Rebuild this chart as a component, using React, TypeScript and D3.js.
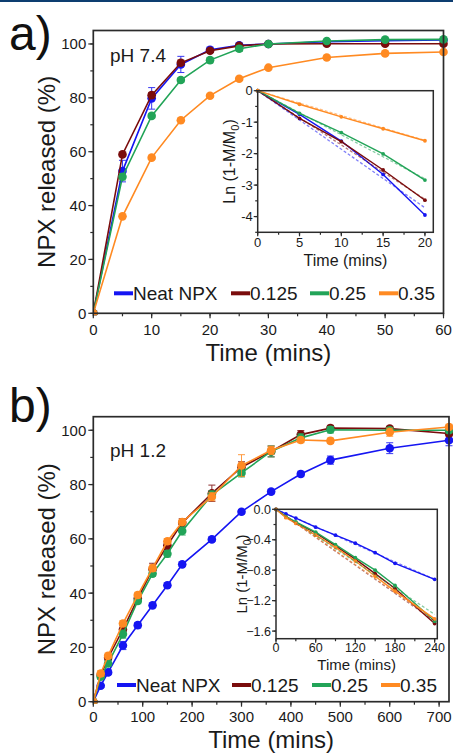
import React from 'react';
import * as d3 from 'd3';

// ---------- Data ----------
const seriesNames = ['Neat NPX', '0.125', '0.25', '0.35'];
const seriesColors = ['#1515f2', '#7a0c0c', '#22a458', '#ff8a22'];

// Panel a (pH 7.4)
const timeA = [0, 5, 10, 15, 20, 25, 30, 40, 50, 60];
const neatA = [0, 52.8, 79.8, 92.4, 97.8, 99.5, 100, 100.8, 101.2, 101.5];
const c125A = [0, 59, 81, 93, 97.5, 99.3, 100, 100.1, 100.1, 100.1];
const c25A = [0, 50.7, 73.3, 86.6, 94, 98.2, 100, 101.1, 101.6, 101.7];
const c35A = [0, 36, 57.8, 71.7, 80.8, 87.1, 91.2, 95, 96.5, 97];
const errNeatA = [0, 4, 4, 3, 1, 0.6, 0.4, 0.4, 0.4, 0.4];
const err125A = [0, 0.6, 1, 1, 0.6, 0.5, 0.4, 0.4, 0.4, 0.4];
const err25A = [0, 1.2, 0.8, 0.8, 1, 1, 0.6, 0.5, 0.5, 0.5];
const err35A = [0, 0.5, 0.5, 0.5, 0.5, 0.5, 0.5, 0.5, 0.5, 0.5];

// Inset a
const timeInA = [0, 5, 10, 15, 20];
const lnNeatA = [0, -0.75, -1.6, -2.66, -3.95];
const ln125A = [0, -0.88, -1.62, -2.52, -3.48];
const ln25A = [0, -0.72, -1.33, -2.01, -2.84];
const ln35A = [0, -0.43, -0.83, -1.21, -1.59];
const fitTimeInA = [0, 20];
const fitNeatA = [0, -3.72];
const fit125A = [0, -3.45];
const fit25A = [0, -2.8];
const fit35A = [0, -1.58];

// Panel b (pH 1.2)
const timeB = [0, 15, 30, 60, 90, 120, 150, 180, 240, 300, 360, 420, 480, 600, 720];
const neatB = [0, 5.9, 10.8, 20.7, 28.2, 35.5, 42.9, 50.6, 59.8, 70, 77.4, 83.9, 89, 93.4, 96.3];
const c125B = [0, 9.8, 16.2, 26.6, 38, 48.8, 57.6, 65.9, 76.8, 86.4, 92.2, 98.4, 100.8, 100.6, 98.8];
const c25B = [0, 9.2, 14.1, 24.9, 37.1, 47.2, 54.5, 62.9, 76.2, 84.3, 92.2, 97.2, 100.2, 100, 100];
const c35B = [0, 10.4, 16.9, 28.8, 39.3, 49.2, 59.1, 66.2, 75.5, 87, 92.6, 96.4, 96.1, 99.3, 101.2];
const errNeatB = [0, 0.6, 0.8, 1.5, 1, 0.8, 0.8, 0.8, 0.8, 0.8, 0.8, 1, 1.5, 2, 2];
const err125B = [0, 0.8, 1, 1.5, 1, 2.2, 1.5, 1.5, 3, 2, 2, 1.5, 1, 0.8, 1];
const err25B = [0, 1, 1, 1.5, 1, 1, 1.2, 1.5, 1.5, 1.5, 2, 1.5, 1.2, 1, 1];
const err35B = [0, 1, 1, 1, 1, 1.2, 1, 1, 1.5, 4, 1.5, 1, 1, 1.5, 1];

// Inset b
const timeInB = [0, 15, 30, 60, 90, 120, 150, 180, 240];
const lnNeatB = [0, -0.06, -0.115, -0.235, -0.34, -0.445, -0.57, -0.71, -0.92];
const ln125B = [0, -0.1, -0.175, -0.31, -0.48, -0.655, -0.845, -1.04, -1.5];
const ln25B = [0, -0.095, -0.165, -0.3, -0.465, -0.635, -0.8, -1.0, -1.47];
const ln35B = [0, -0.11, -0.185, -0.34, -0.5, -0.68, -0.88, -1.075, -1.44];
const fitTimeInB = [0, 240];
const fitNeatB = [0, -0.92];
const fit125B = [0, -1.47];
const fit25B = [0, -1.38];
const fit35B = [0, -1.45];

// Ticks
const xTicksA = [0, 10, 20, 30, 40, 50, 60];
const xTicksB = [0, 100, 200, 300, 400, 500, 600, 700];
const yTicksMain = [0, 20, 40, 60, 80, 100];
const xTicksInA = [0, 5, 10, 15, 20];
const yTicksInA = [0, -1, -2, -3, -4];
const xTicksInB = [0, 60, 120, 180, 240];
const yTicksInB = [0, -0.4, -0.8, -1.2, -1.6];

const FONT = 'Liberation Sans, Arial, Helvetica, sans-serif';
const AXIS = '#2b2b2b';

type Box = { left: number; right: number; top: number; bottom: number };

function Axes({ x, y, box, xMajor, xMinorStep, yMajor, yMinorStep, fmtX, fmtY, fs, tick, minor, xLabDy, yLabDx, sw }: any) {
  const xMinor: number[] = [];
  const [, x1] = x.domain();
  for (let v = 0; v <= x1 + 1e-9; v += xMinorStep) xMinor.push(v);
  const yMinor: number[] = [];
  const [y0, y1] = y.domain();
  for (let v = Math.ceil(y0 / yMinorStep) * yMinorStep; v <= y1 + 1e-9; v += yMinorStep) yMinor.push(v);
  return (
    <g>
      <rect x={box.left} y={box.top} width={box.right - box.left} height={box.bottom - box.top} fill="none" stroke={AXIS} strokeWidth={sw} />
      {xMinor.map((v, i) => (
        <line key={'xm' + i} x1={x(v)} x2={x(v)} y1={box.bottom} y2={box.bottom + minor} stroke={AXIS} strokeWidth={1.2} />
      ))}
      {xMajor.map((v: number, i: number) => (
        <g key={'x' + i}>
          <line x1={x(v)} x2={x(v)} y1={box.bottom} y2={box.bottom + tick} stroke={AXIS} strokeWidth={1.2} />
          <text x={x(v)} y={box.bottom + xLabDy} fontSize={fs} textAnchor="middle" fill="#1a1a1a" fontFamily={FONT}>{fmtX(v)}</text>
        </g>
      ))}
      {yMinor.map((v, i) => (
        <line key={'ym' + i} x1={box.left - minor} x2={box.left} y1={y(v)} y2={y(v)} stroke={AXIS} strokeWidth={1.2} />
      ))}
      {yMajor.map((v: number, i: number) => (
        <g key={'y' + i}>
          <line x1={box.left - tick} x2={box.left} y1={y(v)} y2={y(v)} stroke={AXIS} strokeWidth={1.2} />
          <text x={box.left - yLabDx} y={y(v) + fs * 0.36} fontSize={fs} textAnchor="end" fill="#1a1a1a" fontFamily={FONT}>{fmtY(v)}</text>
        </g>
      ))}
    </g>
  );
}

function Series({ x, y, t, v, err, color, r, sw, cap }: any) {
  const line = d3.line<number>().x((_, i) => x(t[i])).y((d) => y(d));
  return (
    <g>
      <path d={line(v) || ''} fill="none" stroke={color} strokeWidth={sw} />
      {err && v.map((d: number, i: number) => err[i] > 0.3 ? (
        <g key={'e' + i} stroke={color} strokeWidth={1} opacity={0.85}>
          <line x1={x(t[i])} x2={x(t[i])} y1={y(d - err[i])} y2={y(d + err[i])} />
          <line x1={x(t[i]) - cap} x2={x(t[i]) + cap} y1={y(d - err[i])} y2={y(d - err[i])} />
          <line x1={x(t[i]) - cap} x2={x(t[i]) + cap} y1={y(d + err[i])} y2={y(d + err[i])} />
        </g>
      ) : null)}
      {v.map((d: number, i: number) => (
        <circle key={i} cx={x(t[i])} cy={y(d)} r={r} fill={color} />
      ))}
    </g>
  );
}

function Fit({ x, y, t, v, color }: any) {
  const line = d3.line<number>().x((_, i) => x(t[i])).y((d) => y(d));
  return <path d={line(v) || ''} fill="none" stroke={color} strokeWidth={1.3} strokeDasharray="3,2" opacity={0.55} />;
}

function Legend({ yc, starts }: { yc: number; starts: number[] }) {
  return (
    <g>
      {seriesNames.map((n, i) => (
        <g key={n}>
          <line x1={starts[i]} x2={starts[i] + 19} y1={yc} y2={yc} stroke={seriesColors[i]} strokeWidth={4} />
          <text x={starts[i] + 19} y={yc + 6.8} fontSize={19} fill="#1a1a1a" fontFamily={FONT}>{n}</text>
        </g>
      ))}
    </g>
  );
}

function MainPanel({ box, xDomain, xTicks, xMinorStep, time, values, errs, legendY, legendStarts, ph, phY, letter, letterY, labelBaseY, titleY, xLabDy }: any) {
  const x = d3.scaleLinear().domain(xDomain).range([box.left, box.right]);
  const y = d3.scaleLinear().domain([0, 105]).range([box.bottom, box.top]);
  const cy = (box.top + box.bottom) / 2;
  const cx = (box.left + box.right) / 2;
  return (
    <g>
      <defs>
        <clipPath id={'clip' + letter}>
          <rect x={box.left} y={box.top - 10} width={box.right - box.left + 8} height={box.bottom - box.top + 12} />
        </clipPath>
      </defs>
      <g clipPath={`url(#clip${letter})`}>
        {values.map((v: number[], i: number) => (
          <Series key={i} x={x} y={y} t={time} v={v} err={errs[i]} color={seriesColors[i]} r={4.3} sw={1.6} cap={3.5} />
        ))}
      </g>
      <Axes x={x} y={y} box={box} xMajor={xTicks} xMinorStep={xMinorStep} yMajor={yTicksMain} yMinorStep={10}
        fmtX={(v: number) => String(v)} fmtY={(v: number) => String(v)} fs={15} tick={5} minor={3} xLabDy={xLabDy} yLabDx={7} sw={1.7} />
      <text x={cx} y={titleY} fontSize={24} textAnchor="middle" fontFamily={FONT} fill="#1a1a1a">Time (mins)</text>
      <text transform={`translate(${labelBaseY},${cy}) rotate(-90)`} fontSize={24} textAnchor="middle" fontFamily={FONT} fill="#1a1a1a">NPX released (%)</text>
      <text x={110} y={phY} fontSize={19} fontFamily={FONT} fill="#1a1a1a">{ph}</text>
      <text x={9} y={letterY} fontSize={48} fontFamily={FONT} fill="#111">{letter})</text>
      <Legend yc={legendY} starts={legendStarts} />
    </g>
  );
}

function Inset({ box, xDomain, yDomain, xTicks, xMinorStep, yTicks, yMinorStep, time, values, fitT, fits, fs, fmtY, titleFs, lnX, titleY, xLabDy }: any) {
  const x = d3.scaleLinear().domain(xDomain).range([box.left, box.right]);
  const y = d3.scaleLinear().domain(yDomain).range([box.bottom, box.top]);
  const cy = (box.top + box.bottom) / 2;
  const cx = (box.left + box.right) / 2;
  return (
    <g>
      <rect x={box.left} y={box.top} width={box.right - box.left} height={box.bottom - box.top} fill="#fff" />
      {values.map((v: number[], i: number) => (
        <Series key={i} x={x} y={y} t={time} v={v} err={null} color={seriesColors[i]} r={1.9} sw={1.4} cap={0} />
      ))}
      {fits.map((v: number[], i: number) => (
        <Fit key={'f' + i} x={x} y={y} t={fitT} v={v} color={seriesColors[i]} />
      ))}
      <Axes x={x} y={y} box={box} xMajor={xTicks} xMinorStep={xMinorStep} yMajor={yTicks} yMinorStep={yMinorStep}
        fmtX={(v: number) => String(v)} fmtY={fmtY} fs={fs} tick={4} minor={2.5} xLabDy={xLabDy} yLabDx={5} sw={1.5} />
      <text x={cx} y={titleY} fontSize={titleFs} textAnchor="middle" fontFamily={FONT} fill="#1a1a1a">Time (mins)</text>
      <text transform={`translate(${lnX},${cy}) rotate(-90)`} fontSize={titleFs} textAnchor="middle" fontFamily={FONT} fill="#1a1a1a">
        Ln (1-M/M<tspan fontSize={titleFs * 0.7} dy={titleFs * 0.25}>0</tspan><tspan dy={-titleFs * 0.25}>)</tspan>
      </text>
    </g>
  );
}

export default function App() {
  const boxA: Box = { left: 93.3, right: 443.5, top: 30.5, bottom: 313.3 };
  const boxB: Box = { left: 93.3, right: 449, top: 416.7, bottom: 701.7 };
  const boxInA: Box = { left: 257.7, right: 433.3, top: 90.7, bottom: 232.3 };
  const boxInB: Box = { left: 276, right: 437.3, top: 509.3, bottom: 638.7 };
  return (
    <svg width={453} height={756} style={{ position: 'absolute', left: 0, top: 0, background: '#fff' }}>
      <rect x={0} y={0} width={453} height={756} fill="#fff" />
      <rect x={0} y={0} width={453} height={2} fill="#0d3d70" />
      <MainPanel box={boxA} xDomain={[0, 60]} xTicks={xTicksA} xMinorStep={5} time={timeA}
        values={[neatA, c125A, c25A, c35A]} errs={[errNeatA, err125A, err25A, err35A]}
        legendY={293.3} legendStarts={[114, 231, 310, 379]} ph="pH 7.4" phY={61.5} letter="a" letterY={50}
        labelBaseY={55} titleY={361} xLabDy={22} />
      <Inset box={boxInA} xDomain={[0, 21]} yDomain={[-4.5, 0]} xTicks={xTicksInA} xMinorStep={2.5} yTicks={yTicksInA} yMinorStep={0.5}
        time={timeInA} values={[lnNeatA, ln125A, ln25A, ln35A]} fitT={fitTimeInA} fits={[fitNeatA, fit125A, fit25A, fit35A]}
        fs={13} fmtY={(v: number) => String(v)} titleFs={16} lnX={235} titleY={265.5} xLabDy={14.5} />
      <MainPanel box={boxB} xDomain={[0, 720]} xTicks={xTicksB} xMinorStep={50} time={timeB}
        values={[neatB, c125B, c25B, c35B]} errs={[errNeatB, err125B, err25B, err35B]}
        legendY={685} legendStarts={[117, 232, 312, 381]} ph="pH 1.2" phY={457} letter="b" letterY={421.5}
        labelBaseY={55} titleY={747.5} xLabDy={20.5} />
      <Inset box={boxInB} xDomain={[0, 244]} yDomain={[-1.7, 0]} xTicks={xTicksInB} xMinorStep={30} yTicks={yTicksInB} yMinorStep={0.2}
        time={timeInB} values={[lnNeatB, ln125B, ln25B, ln35B]} fitT={fitTimeInB} fits={[fitNeatB, fit125B, fit25B, fit35B]}
        fs={12.5} fmtY={(v: number) => d3.format('.1f')(v)} titleFs={15} lnX={247} titleY={669.5} xLabDy={13.5} />
    </svg>
  );
}
